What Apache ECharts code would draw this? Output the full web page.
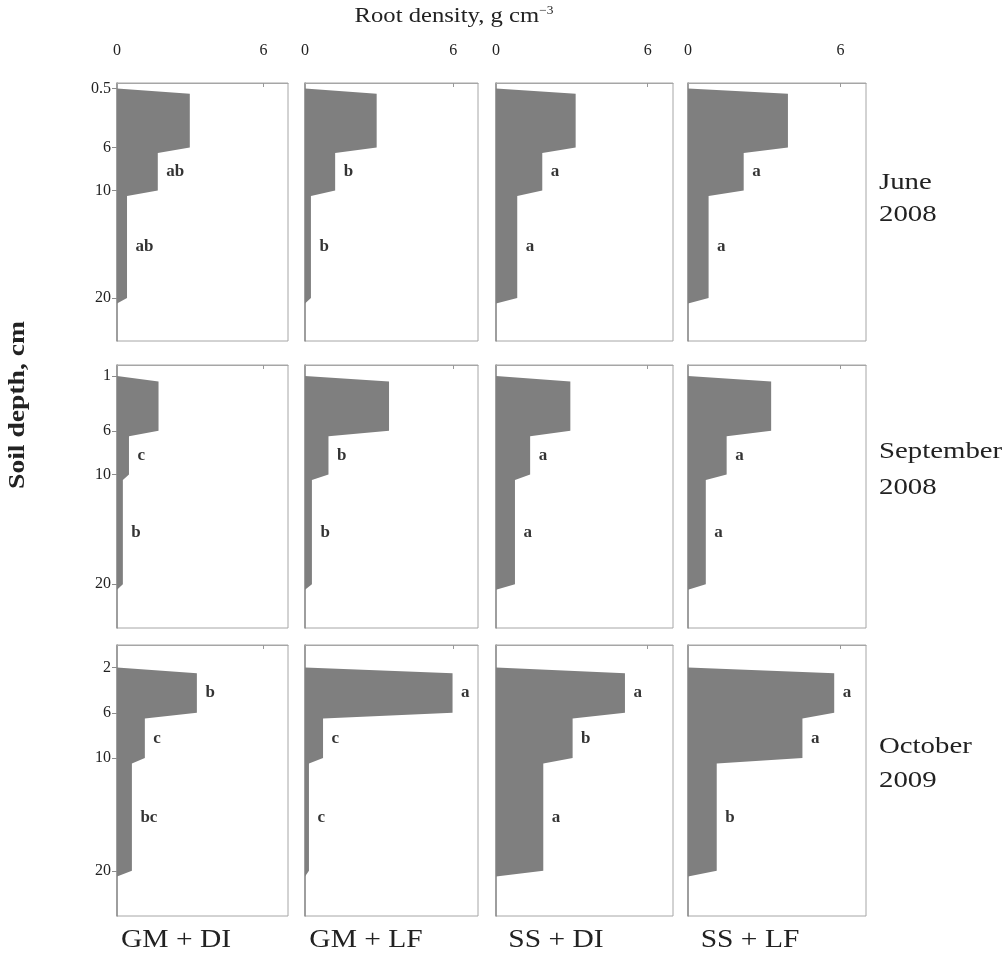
<!DOCTYPE html>
<html><head><meta charset="utf-8">
<script src="https://cdn.jsdelivr.net/npm/echarts@6/dist/echarts.min.js"></script>
<style>html,body{margin:0;padding:0;background:#fff}#c{width:1007px;height:955px}</style>
</head><body><div id="c"></div>
<script>
// ---- data ----
const treatments = ['GM + DI', 'GM + LF', 'SS + DI', 'SS + LF'];
const dateLines = [['June', '2008'], ['September', '2008'], ['October', '2009']];
const topDepths = [0.5, 1, 2];                 // cm, top of sampled profile per date
const depthTickLabels = [[0.5, 6, 10, 20], [1, 6, 10, 20], [2, 6, 10, 20]];
const layerBottoms = [6, 10, 20];              // cm
const stepDepth = 0.5;                         // cm, transition between layers
const densityTicks = [0, 6];
// root density (g cm-3) per treatment: [top layer, 6-10 cm, 10-20 cm]
const rootJune2008 = [[2.98, 1.67, 0.41], [2.90, 1.22, 0.24], [3.15, 1.83, 0.84], [3.93, 2.19, 0.81]];
const rootSep2008  = [[1.70, 0.49, 0.24], [3.40, 0.95, 0.28], [2.94, 1.35, 0.75], [3.27, 1.52, 0.70]];
const rootOct2009  = [[3.27, 1.14, 0.61], [5.97, 0.73, 0.16], [5.10, 3.03, 1.87], [5.75, 4.50, 1.13]];
const lettersJune2008 = [['', 'ab', 'ab'], ['', 'b', 'b'], ['', 'a', 'a'], ['', 'a', 'a']];
const lettersSep2008  = [['', 'c', 'b'], ['', 'b', 'b'], ['', 'a', 'a'], ['', 'a', 'a']];
const lettersOct2009  = [['b', 'c', 'bc'], ['a', 'c', 'c'], ['a', 'b', 'a'], ['a', 'a', 'b']];

const rootData = [rootJune2008, rootSep2008, rootOct2009];
const letterData = [lettersJune2008, lettersSep2008, lettersOct2009];

// ---- layout ----
const colLeft = [117, 305, 496, 688];
const colWidth = [171, 173, 177, 178];
const rowTop = [83, 365, 645];
const rowHeight = [258, 263, 271];
const serif = '"Liberation Serif", "DejaVu Serif", serif';

const grids = [], xAxes = [], yAxes = [], series = [];
let gi = 0;
for (let r = 0; r < 3; r++) {
  for (let c = 0; c < 4; c++) {
    grids.push({left: colLeft[c], top: rowTop[r], width: colWidth[c], height: rowHeight[r],
      show: true, borderColor: '#a6a6a6', borderWidth: 1, backgroundColor: '#fff'});
    xAxes.push({type: 'value', gridIndex: gi, position: 'top', min: 0, max: 7,
      axisLine: {show: true, lineStyle: {color: '#a6a6a6'}},
      axisTick: {show: true, inside: true, length: 4, customValues: [densityTicks[1]], lineStyle: {color: '#999'}},
      axisLabel: {show: r === 0, customValues: densityTicks, margin: 24, fontFamily: serif, fontSize: 16, color: '#222'},
      splitLine: {show: false}});
    yAxes.push({type: 'value', gridIndex: gi, inverse: true, min: 0, max: 24,
      axisLine: {show: true, lineStyle: {color: '#8c8c8c', width: 1.5}},
      axisTick: {show: c === 0, inside: false, length: 5, customValues: depthTickLabels[r], lineStyle: {color: '#8c8c8c'}},
      axisLabel: {show: c === 0, customValues: depthTickLabels[r], margin: 6, fontFamily: serif, fontSize: 16, color: '#222'},
      splitLine: {show: false}});

    const v = rootData[r][c];
    const d0 = topDepths[r];
    const tops = [d0 + stepDepth, layerBottoms[0] + stepDepth, layerBottoms[1] + stepDepth];
    // profile vertices [density, depth]
    const verts = [[0, d0]];
    for (let k = 0; k < 3; k++) { verts.push([v[k], tops[k]]); verts.push([v[k], layerBottoms[k]]); }
    verts.push([0, layerBottoms[2] + stepDepth]);
    const flat = [].concat(...verts);
    const nV = verts.length;
    series.push({type: 'custom', xAxisIndex: gi, yAxisIndex: gi, silent: true,
      encode: {x: verts.map((_, k) => 2 * k), y: verts.map((_, k) => 2 * k + 1)},
      data: [flat],
      renderItem: function (params, api) {
        const pts = [];
        for (let k = 0; k < nV; k++) pts.push(api.coord([api.value(2 * k), api.value(2 * k + 1)]));
        return {type: 'polygon', shape: {points: pts}, style: {fill: '#7f7f7f'}};
      }});
    const lab = [];
    for (let k = 0; k < 3; k++) {
      const L = letterData[r][c][k];
      if (!L) continue;
      lab.push({name: L, value: [v[k], (tops[k] + layerBottoms[k]) / 2]});
    }
    series.push({type: 'scatter', xAxisIndex: gi, yAxisIndex: gi, silent: true,
      symbolSize: 1, itemStyle: {color: 'rgba(0,0,0,0)'}, data: lab,
      label: {show: true, position: 'right', distance: 8, formatter: '{b}',
        fontFamily: serif, fontWeight: 'bold', fontSize: 17, color: '#000'}});
    gi++;
  }
}

const graphic = [
  {type: 'text', x: 454, y: 16, scaleX: 1.12, style: {
    text: '{a|Root density, g cm}{s|−3}', fill: '#222', align: 'center', verticalAlign: 'middle',
    rich: {a: {fontFamily: serif, fontSize: 22, fill: '#222'},
           s: {fontFamily: serif, fontSize: 12, fill: '#222', verticalAlign: 'top', padding: [0, 0, 11, 0]}}}},
  {type: 'text', x: 18, y: 405, rotation: Math.PI / 2, scaleX: 1.15, style: {
    text: 'Soil depth, cm', fontFamily: serif, fontSize: 24, fontWeight: 'bold', fill: '#222',
    align: 'center', verticalAlign: 'middle'}}
];
const tCenters = [176, 366, 556, 750];
treatments.forEach((t, i) => graphic.push({type: 'text', x: tCenters[i], y: 940, scaleX: 1.18, style: {
  text: t, fontFamily: serif, fontSize: 25, fill: '#222', align: 'center', verticalAlign: 'middle'}}));
const dCenters = [[183, 215], [452, 488], [747, 781]];
dateLines.forEach((d, i) => d.forEach((line, j) => graphic.push({type: 'text', x: 879, y: dCenters[i][j], scaleX: 1.2, style: {
  text: line, fontFamily: serif, fontSize: 24, fill: '#222', align: 'left', verticalAlign: 'middle'}})));

const chart = echarts.init(document.getElementById('c'), null, {renderer: 'canvas'});
chart.setOption({animation: false, backgroundColor: '#fff', grid: grids, xAxis: xAxes, yAxis: yAxes, series: series, graphic: graphic});
</script>
</body></html>
